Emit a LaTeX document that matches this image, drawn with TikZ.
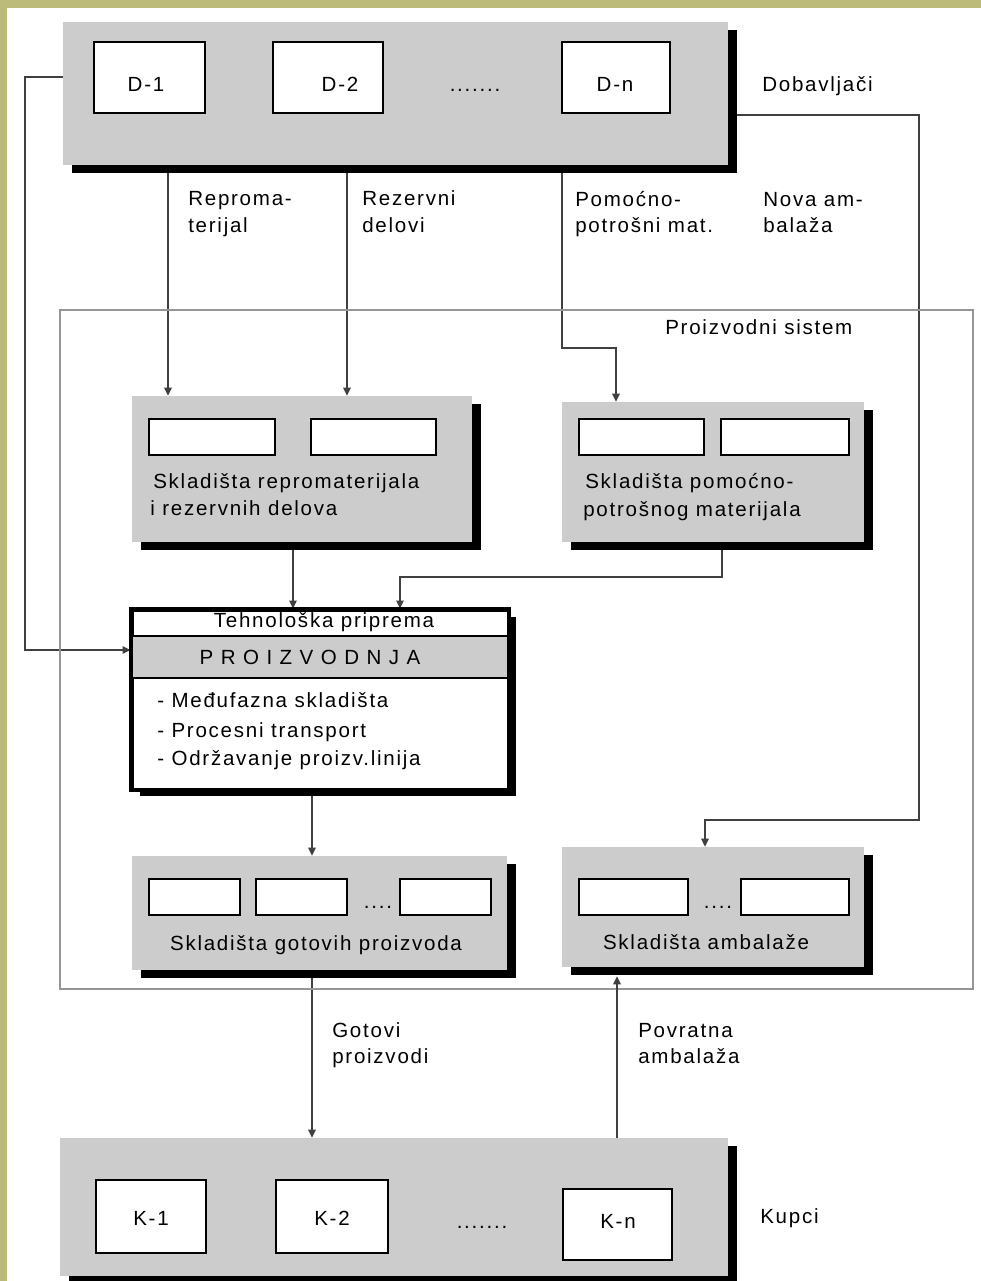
\documentclass[tikz,border=0pt]{standalone}
\usepackage{fontspec}
\setmainfont{Liberation Sans}[LetterSpace=8.5]
\usetikzlibrary{arrows.meta,fit,shadows,backgrounds,calc}

\definecolor{boxgray}{RGB}{204,204,204}
\definecolor{khaki}{RGB}{189,187,122}
\definecolor{linegray}{RGB}{64,64,64}
\definecolor{framegray}{RGB}{150,150,150}
\newcommand\lbl{\fontsize{15.4}{20}\selectfont}

\tikzset{
  graybox/.style={fill=boxgray, draw=none, inner sep=0pt,
    drop shadow={shadow xshift=6.75pt, shadow yshift=-6pt, fill=black, opacity=1}},
  slot/.style={fill=white, draw=black, line width=1.5pt, inner sep=0pt},
  flow/.style={draw=linegray, line width=1.2pt},
  arr/.style={flow, -{Triangle[length=6pt,width=5.5pt]}},
  txt/.style={inner sep=0pt, font=\lbl},
  lt/.style={txt, anchor=base west},
  ct/.style={txt, anchor=base},
}

\begin{document}
\begin{tikzpicture}[x=0.75pt,y=-0.75pt]
\useasboundingbox (0,0) rectangle (981,1281);

% production system frame
\node[draw=framegray, line width=1pt, inner sep=0pt, fit={(60,310) (973,989)}] (sys) {};
\node[lt] (syslbl) at (665,334) {Proizvodni sistem};

% suppliers
\node[graybox, fit={(63,22) (728,165)}] (sup) {};
\node[slot, fit={(94,42) (205,113)}] (d1) {};
\node[slot, fit={(273,42) (383,113)}] (d2) {};
\node[slot, fit={(562,42) (670,113)}] (dn) {};
\node[ct] (d1t) at (146,91) {D-1};
\node[ct] (d2t) at (340,91) {D-2};
\node[ct] (dnt) at (615,91) {D-n};
\node[ct] (supdots) at (475,92) {.......};
\node[lt] (suplbl) at (762,92) {Dobavljači};

% flow labels from suppliers
\node[lt] (l1a) at (188,205) {Reproma-};
\node[lt] (l1b) at (188,232) {terijal};
\node[lt] (l2a) at (362,205) {Rezervni};
\node[lt] (l2b) at (362,232) {delovi};
\node[lt] (l3a) at (575,206) {Pomoćno-};
\node[lt] (l3b) at (575,232) {potrošni mat.};
\node[lt] (l4a) at (763,206) {Nova am-};
\node[lt] (l4b) at (763,232) {balaža};

% stores of raw material and spare parts
\node[graybox, fit={(132,396) (472,542)}] (skr) {};
\node[slot, fit={(149,419) (275,455)}] (skr1) {};
\node[slot, fit={(311,419) (436,455)}] (skr2) {};
\node[lt] (skra) at (153,488) {Skladišta repromaterijala};
\node[lt] (skrb) at (150,515) {i rezervnih delova};

% stores of auxiliary material
\node[graybox, fit={(562,402) (864,542)}] (skp) {};
\node[slot, fit={(579,419) (704,455)}] (skp1) {};
\node[slot, fit={(721,419) (849,455)}] (skp2) {};
\node[lt] (skpa) at (585,488) {Skladišta pomoćno-};
\node[lt] (skpb) at (583,516) {potrošnog materijala};

% production block
\node[fill=white, draw=black, line width=2.25pt, inner sep=0pt,
      drop shadow={shadow xshift=6pt, shadow yshift=-5.25pt, fill=black, opacity=1},
      fit={(132,610) (508,789)}] (prod) {};
\node[fill=boxgray, draw=black, line width=1.3pt, inner sep=0pt, fit={(132,636) (508,678)}] (prodrow) {};
\draw[line width=2.25pt] (prod.south west) rectangle (prod.north east);
\node[ct] (tp) at (324,627) {Tehnološka priprema};
\node[ct] (pr) at (310,664) {P R O I Z V O D N J A};
\node[lt] (b1) at (157,707) {- Međufazna skladišta};
\node[lt] (b2) at (157,737) {- Procesni transport};
\node[lt] (b3) at (157,765) {- Održavanje proizv.linija};

% finished goods stores
\node[graybox, fit={(132,856) (507,970)}] (got) {};
\node[slot, fit={(149,879) (240,915)}] (got1) {};
\node[slot, fit={(256,879) (347,915)}] (got2) {};
\node[slot, fit={(400,879) (491,915)}] (got3) {};
\node[ct] (gotdots) at (378,908) {....};
\node[ct] (gotlbl) at (316,950) {Skladišta gotovih proizvoda};

% packaging stores
\node[graybox, fit={(562,847) (864,967)}] (amb) {};
\node[slot, fit={(579,879) (688,915)}] (amb1) {};
\node[slot, fit={(741,879) (849,915)}] (amb2) {};
\node[ct] (ambdots) at (718,908) {....};
\node[ct] (amblbl) at (706,949) {Skladišta ambalaže};

% flow labels to customers
\node[lt] (l5a) at (332,1037) {Gotovi};
\node[lt] (l5b) at (332,1063) {proizvodi};
\node[lt] (l6a) at (638,1037) {Povratna};
\node[lt] (l6b) at (638,1063) {ambalaža};

% customers
\node[graybox, fit={(60,1138) (728,1276)}] (kup) {};
\node[slot, fit={(96,1180) (206,1253)}] (k1) {};
\node[slot, fit={(276,1180) (388,1253)}] (k2) {};
\node[slot, fit={(563,1189) (672,1260)}] (kn) {};
\node[ct] (k1t) at (151,1225) {K-1};
\node[ct] (k2t) at (332,1225) {K-2};
\node[ct] (knt) at (618,1228) {K-n};
\node[ct] (kupdots) at (482,1228) {.......};
\node[lt] (kuplbl) at (760,1223) {Kupci};

% page background and material flows, behind the boxes
\begin{scope}[on background layer]
  \fill[white] (0,0) rectangle (981,1281);
  \fill[khaki] (0,0) rectangle (981,8);
  \fill[khaki] (0,0) rectangle (7,1281);
  \draw[arr] (sup.south -| 168,0) -- (skr.north -| 168,0);
  \draw[arr] (sup.south -| 347,0) -- (skr.north -| 347,0);
  \draw[arr] (sup.south -| 562,0) -- (562,348) -- (616,348) -- (skp.north -| 616,0);
  \draw[arr] (sup.east |- 0,115) -- (919,115) -- (919,820) -- (705,820) -- (amb.north -| 705,0);
  \draw[arr] (sup.west |- 0,77) -- (25,77) -- (25,650) -- (prod.west |- 0,650);
  \draw[arr] (skr.south -| 293,0) -- (prod.north -| 293,0);
  \draw[arr] (skp.south -| 722,0) -- (722,577) -- (400,577) -- (prod.north -| 400,0);
  \draw[arr] (prod.south -| 312,0) -- (got.north -| 312,0);
  \draw[arr] (got.south -| 312,0) -- (kup.north -| 312,0);
\end{scope}
\draw[arr] (kup.north -| 617,0) -- ($(amb.south -| 617,0)+(0,9)$);
\end{tikzpicture}
\end{document}
